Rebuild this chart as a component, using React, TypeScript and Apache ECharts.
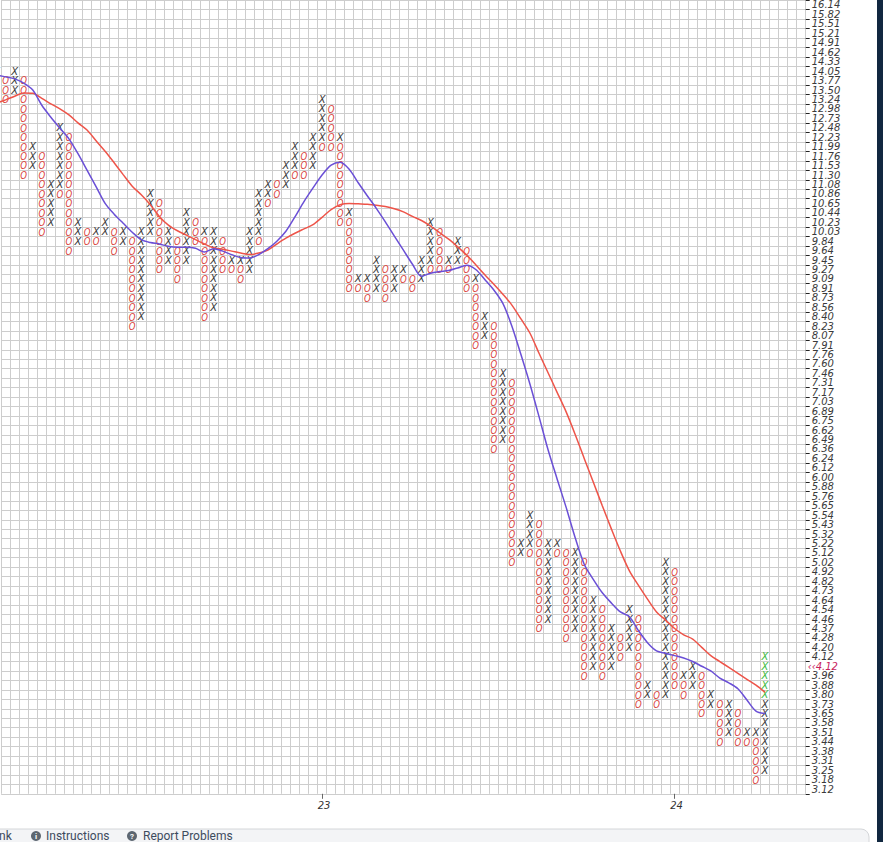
import React, { useEffect, useRef } from 'react';
import * as echarts from 'echarts';

// Box prices (one row per box, top to bottom)
const boxPrices = [
  16.14, 15.82, 15.51, 15.21, 14.91, 14.62, 14.33, 14.05, 13.77, 13.5,
  13.24, 12.98, 12.73, 12.48, 12.23, 11.99, 11.76, 11.53, 11.3, 11.08,
  10.86, 10.65, 10.44, 10.23, 10.03, 9.84, 9.64, 9.45, 9.27, 9.09,
  8.91, 8.73, 8.56, 8.4, 8.23, 8.07, 7.91, 7.76, 7.6, 7.46,
  7.31, 7.17, 7.03, 6.89, 6.75, 6.62, 6.49, 6.36, 6.24, 6.12,
  6.0, 5.88, 5.76, 5.65, 5.54, 5.43, 5.32, 5.22, 5.12, 5.02,
  4.92, 4.82, 4.73, 4.64, 4.54, 4.46, 4.37, 4.28, 4.2, 4.12,
  4.04, 3.96, 3.88, 3.8, 3.73, 3.65, 3.58, 3.51, 3.44, 3.38,
  3.31, 3.25, 3.18, 3.12,
];

// Point & figure columns: [top box price, marks from top to bottom]
// X = rising box, O = falling box, x = latest (current) rising box
const columns: [number, string][] = [
  [14.05, 'X'],
  [13.77, 'OOO'],
  [14.05, 'XXX'],
  [13.77, 'OOOOOOOOOOO'],
  [11.99, 'XXX'],
  [11.76, 'OOOOOOOOO'],
  [11.08, 'XXXXX'],
  [12.48, 'XXXXXXXO'],
  [12.23, 'OOOOOOOOOOOOO'],
  [10.23, 'XXX'],
  [10.03, 'OO'],
  [10.03, 'XO'],
  [10.23, 'XX'],
  [10.03, 'OOO'],
  [10.03, 'XX'],
  [9.84, 'OOOOOOOOOO'],
  [10.03, 'XXXXXXXXXX'],
  [10.86, 'XXXXX'],
  [10.65, 'OOOOOOOO'],
  [10.03, 'XXXX'],
  [9.84, 'OOOOO'],
  [10.44, 'XXXXXX'],
  [10.23, 'OOO'],
  [10.03, 'XOOOOOOOOO'],
  [10.03, 'XXXXXXXXX'],
  [9.84, 'OOOO'],
  [9.45, 'XO'],
  [9.45, 'XOO'],
  [10.03, 'XXXXX'],
  [10.86, 'XXXXXO'],
  [11.08, 'XXO'],
  [11.08, 'OO'],
  [11.53, 'XXX'],
  [11.99, 'XXXO'],
  [11.76, 'OOO'],
  [12.23, 'XXXX'],
  [13.24, 'XXXXXO'],
  [12.98, 'OOOOO'],
  [12.23, 'XOOOOOOOOO'],
  [10.44, 'XOOOOOOOO'],
  [9.09, 'XO'],
  [9.09, 'XOO'],
  [9.45, 'XXXX'],
  [9.27, 'OOOO'],
  [9.27, 'XXX'],
  [9.27, 'XO'],
  [9.09, 'OO'],
  [9.45, 'XXX'],
  [10.23, 'XXXXXO'],
  [10.03, 'OOOOO'],
  [9.45, 'XO'],
  [9.84, 'XXX'],
  [9.64, 'OOOOO'],
  [9.09, 'XOOOOOOO'],
  [8.4, 'XXX'],
  [8.23, 'OOOOOOOOOOOOOO'],
  [7.46, 'XXXXXXXX'],
  [7.31, 'OOOOOOOOOOOOOOOOOOOO'],
  [5.22, 'XX'],
  [5.54, 'XXXXO'],
  [5.43, 'OOOOOOOOOOOO'],
  [5.22, 'XXXXXXXXX'],
  [5.22, 'XO'],
  [5.12, 'OOOOOOOOOO'],
  [5.12, 'XXXXXXXXX'],
  [5.02, 'OOOOOOOOOOOOO'],
  [4.64, 'XXXXXXXX'],
  [4.54, 'OOOOOOOO'],
  [4.37, 'XXXXX'],
  [4.28, 'OOO'],
  [4.54, 'XXXXX'],
  [4.46, 'OOOOOOOOOO'],
  [3.88, 'XX'],
  [3.8, 'OO'],
  [5.02, 'XXXXXXXXXXXXXXX'],
  [4.92, 'OOOOOOOOOOOOO'],
  [3.96, 'XOO'],
  [4.04, 'XXX'],
  [3.96, 'OOOOO'],
  [3.8, 'XX'],
  [3.73, 'OOOOO'],
  [3.73, 'XXXX'],
  [3.65, 'OOOO'],
  [3.51, 'XO'],
  [3.51, 'XOOOOO'],
  [4.12, 'xxxxxXXXXXXXX'],
];

// Moving averages, one value per column (price)
const maSlow = [
  13.14, 13.23, 13.33, 13.42, 13.41, 13.27, 13.12, 12.98, 12.82, 12.61,
  12.42, 12.14, 11.88, 11.6, 11.31, 11.04, 10.84, 10.62, 10.36, 10.17,
  10.05, 9.96, 9.87, 9.78, 9.7, 9.67, 9.63, 9.59, 9.56, 9.59,
  9.65, 9.78, 9.9, 10.0, 10.09, 10.18, 10.34, 10.51, 10.62, 10.65,
  10.64, 10.63, 10.61, 10.58, 10.53, 10.46, 10.36, 10.27, 10.15, 10.01,
  9.88, 9.72, 9.55, 9.36, 9.17, 8.99, 8.8, 8.6, 8.36, 8.11,
  7.78, 7.47, 7.17, 6.88, 6.56, 6.24, 5.94, 5.65, 5.38, 5.14,
  4.93, 4.78, 4.65, 4.52, 4.45, 4.37, 4.31, 4.27, 4.2, 4.13,
  4.08, 4.03, 3.98, 3.93, 3.88, 3.82,
];
const maFast = [
  13.93, 13.88, 13.82, 13.7, 13.5, 13.08, 12.76, 12.47, 12.19, 11.82,
  11.42, 11.03, 10.65, 10.41, 10.21, 10.02, 9.87, 9.81, 9.78, 9.73,
  9.71, 9.71, 9.69, 9.61, 9.68, 9.63, 9.56, 9.5, 9.49, 9.56,
  9.68, 9.84, 10.04, 10.35, 10.69, 11.0, 11.3, 11.54, 11.61, 11.44,
  11.12, 10.82, 10.54, 10.24, 9.94, 9.65, 9.37, 9.14, 9.2, 9.23,
  9.25, 9.3, 9.35, 9.27, 9.08, 8.88, 8.63, 8.23, 7.76, 7.29,
  6.81, 6.35, 5.98, 5.63, 5.28, 5.0, 4.84, 4.71, 4.61, 4.52,
  4.48, 4.35, 4.24, 4.17, 4.15, 4.13, 4.11, 4.08, 4.04, 4.0,
  3.94, 3.9, 3.85, 3.76, 3.67, 3.65,
];

// Year labels under the columns where a new year starts
const dateLabels = [
  { column: 36, text: '23' },
  { column: 75, text: '24' },
];

// Last price marker on the price scale
const priceMarker = { box: 4.04, text: '\u2039\u20394.12' };

const FIRST_COL = 1; // first fully visible column slot
const LAST_COL = 90; // right edge of the grid (column slots)

function rowOf(price: number): number {
  for (let k = 0; k < boxPrices.length - 1; k++) {
    const a = boxPrices[k];
    const b = boxPrices[k + 1];
    if (price <= a && price >= b) return k + (a - price) / (a - b);
  }
  return price > boxPrices[0] ? 0 : boxPrices.length - 1;
}

export default function App() {
  const ref = useRef<HTMLDivElement>(null);

  useEffect(() => {
    if (!ref.current) return;
    const chart = echarts.init(ref.current, undefined, { renderer: 'svg' });

    const markData: number[][] = [];
    columns.forEach(([top, marks], i) => {
      const r0 = boxPrices.indexOf(top);
      for (let j = 0; j < marks.length; j++) {
        const c = marks[j];
        const code = c === 'O' ? 1 : c === 'x' ? 2 : 0;
        markData.push([i + 0.5, r0 + j + 0.5, code]);
      }
    });

    const colLabels = Array.from({ length: LAST_COL - FIRST_COL }, (_, k) => {
      const d = dateLabels.find((l) => l.column === k + FIRST_COL);
      return d ? d.text : '';
    });
    const markerIdx = boxPrices.indexOf(priceMarker.box);
    const gridColor = '#cdcdcd';
    const labelFont = 'DejaVu Sans';

    const option: any = {
      animation: false,
      backgroundColor: '#ffffff',
      grid: { left: 1.14, top: 0, width: 804.56, height: 793.8, containLabel: false },
      xAxis: [
        {
          type: 'value', min: FIRST_COL, max: LAST_COL, interval: 1,
          axisLine: { show: false }, axisTick: { show: false }, axisLabel: { show: false },
          splitLine: { show: true, lineStyle: { color: gridColor, width: 1 } },
        },
        {
          type: 'category', data: colLabels, position: 'bottom', boundaryGap: true,
          axisLine: { show: false },
          axisTick: {
            show: true, alignWithLabel: true, length: 5,
            interval: (i: number) => colLabels[i] !== '',
            lineStyle: { color: '#666' },
          },
          axisLabel: {
            show: true, interval: (i: number) => colLabels[i] !== '',
            fontFamily: labelFont, fontStyle: 'italic', fontSize: 10, color: '#333', margin: 7,
            padding: [0, 0, 0, 4],
          },
          splitLine: { show: false },
        },
      ],
      yAxis: [
        {
          type: 'value', min: 0, max: boxPrices.length, interval: 1, inverse: true, position: 'right',
          axisLine: { show: false },
          axisTick: { show: true, length: 4, lineStyle: { color: '#222' } },
          axisLabel: { show: false },
          splitLine: { show: true, lineStyle: { color: gridColor, width: 1 } },
        },
        {
          type: 'category', data: boxPrices.map((p) => p.toFixed(2)), inverse: true, position: 'right',
          boundaryGap: true,
          axisLine: { show: false }, axisTick: { show: false }, splitLine: { show: false },
          axisLabel: {
            interval: 0, margin: 6,
            fontFamily: labelFont, fontStyle: 'italic', fontSize: 10, color: '#3a3a3a',
            formatter: (v: string, idx: number) => (idx === markerIdx ? '{m|' + priceMarker.text + '}' : v),
            rich: {
              m: { fontFamily: labelFont, fontStyle: 'italic', fontSize: 10, color: '#c8215a', padding: [0, 0, 0, -4] },
            },
          },
        },
      ],
      series: [
        {
          type: 'custom', xAxisIndex: 0, yAxisIndex: 0, silent: true, clip: false,
          data: markData,
          encode: { x: 0, y: 1 },
          renderItem: (params: any, api: any) => {
            const p = api.coord([api.value(0), api.value(1)]);
            const code = api.value(2);
            const isO = code === 1;
            return {
              type: 'text',
              x: p[0],
              y: p[1],
              scaleX: isO ? 0.78 : 1,
              style: {
                text: isO ? 'O' : 'X',
                fill: isO ? '#d9403a' : code === 2 ? '#3dba3d' : '#3a3a3a',
                font: isO ? 'italic 11px "DejaVu Sans"' : 'italic 10px "DejaVu Sans"',
                align: 'center',
                verticalAlign: 'middle',
              },
            };
          },
        },
        {
          type: 'line', xAxisIndex: 0, yAxisIndex: 0, silent: true, clip: false,
          data: maSlow.map((v, i) => [i + 0.5, rowOf(v) + 0.5]),
          showSymbol: false, symbol: 'none', smooth: 0.3,
          lineStyle: { color: '#ee5449', width: 1.5 },
          z: 3,
        },
        {
          type: 'line', xAxisIndex: 0, yAxisIndex: 0, silent: true, clip: false,
          data: maFast.map((v, i) => [i + 0.5, rowOf(v) + 0.5]),
          showSymbol: false, symbol: 'none', smooth: 0.3,
          lineStyle: { color: '#6a4fd6', width: 1.5 },
          z: 3,
        },
      ],
      graphic: [
        { type: 'rect', z: 10, shape: { x: -10, y: 829, width: 879, height: 30, r: 8 },
          style: { fill: '#f3f4f6', stroke: '#d4d6d9', lineWidth: 1 } },
        { type: 'text', z: 11, x: -1, y: 836,
          style: { text: 'nk', font: '12px Roboto', fill: '#3d4b5e', verticalAlign: 'middle' } },
        { type: 'circle', z: 11, shape: { cx: 36, cy: 836, r: 5 }, style: { fill: '#5d6771' } },
        { type: 'text', z: 12, x: 36, y: 836,
          style: { text: 'i', font: 'bold 8px Roboto', fill: '#ffffff', align: 'center', verticalAlign: 'middle' } },
        { type: 'text', z: 11, x: 46, y: 836,
          style: { text: 'Instructions', font: '12px Roboto', fill: '#3d4b5e', verticalAlign: 'middle' } },
        { type: 'circle', z: 11, shape: { cx: 132, cy: 836, r: 5 }, style: { fill: '#5d6771' } },
        { type: 'text', z: 12, x: 132, y: 836,
          style: { text: '?', font: 'bold 8px Roboto', fill: '#ffffff', align: 'center', verticalAlign: 'middle' } },
        { type: 'text', z: 11, x: 143, y: 836,
          style: { text: 'Report Problems', font: '12px Roboto', fill: '#3d4b5e', verticalAlign: 'middle' } },
        { type: 'rect', z: 13, shape: { x: 877, y: 0, width: 6, height: 842 }, style: { fill: '#112840' } },
      ],
    };

    chart.setOption(option);
    return () => chart.dispose();
  }, []);

  return (
    <div
      ref={ref}
      style={{ position: 'fixed', left: 0, top: 0, width: 883, height: 842, background: '#ffffff' }}
    />
  );
}
